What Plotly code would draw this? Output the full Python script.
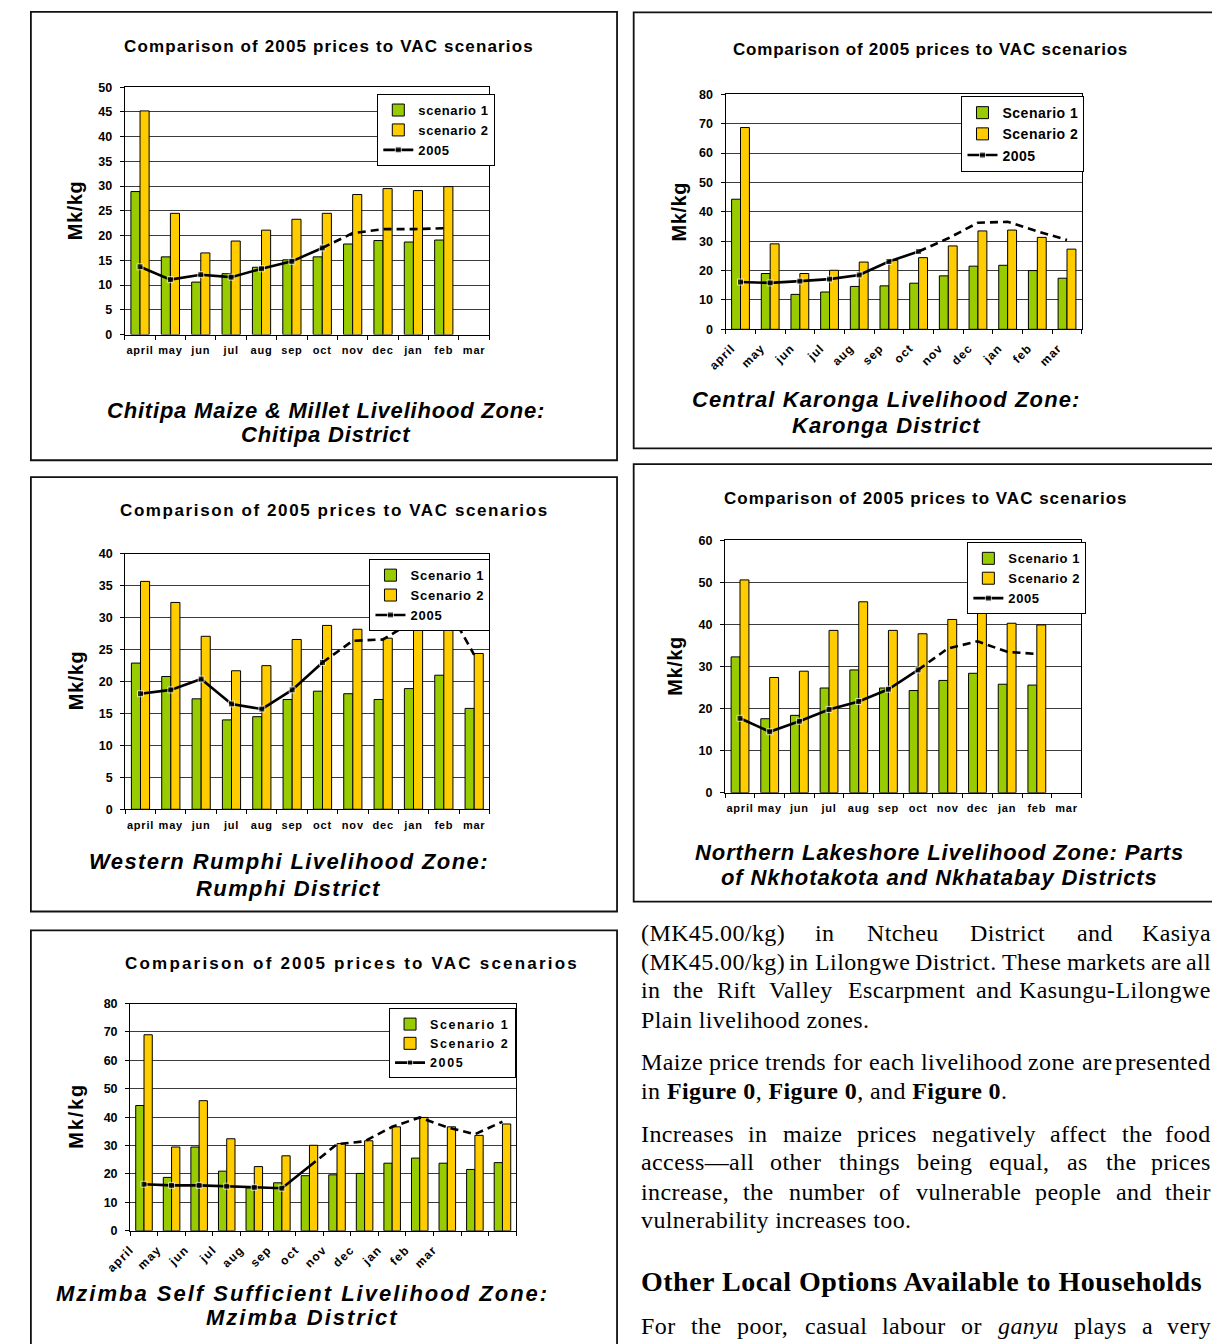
import plotly.graph_objects as go

W, H = 1212, 1344
SANS = "Liberation Sans, Arial, sans-serif"
SERIF = "Liberation Serif, Times New Roman, serif"
GREEN = "#99CC00"
YELLOW = "#FFCC00"

# ---------------- data ----------------
months = ["april", "may", "jun", "jul", "aug", "sep", "oct", "nov", "dec", "jan", "feb", "mar"]

chitipa_s1 = [28.9, 15.7, 10.6, 12.3, 13.6, 15.1, 15.7, 18.3, 19.0, 18.7, 19.1, None]
chitipa_s2 = [45.2, 24.5, 16.5, 18.9, 21.1, 23.3, 24.5, 28.3, 29.5, 29.1, 29.9, None]
chitipa_2005 = [13.7, 11.1, 12.1, 11.6, 13.3, 14.8, 17.5, 20.5, 21.3, 21.3, 21.5, None]

karonga_s1 = [44.3, 19.0, 11.9, 12.7, 14.6, 14.8, 15.7, 18.2, 21.5, 21.8, 20.0, 17.4]
karonga_s2 = [68.7, 29.1, 19.0, 20.1, 22.9, 23.5, 24.4, 28.4, 33.5, 33.8, 31.3, 27.3]
karonga_2005 = [16.1, 15.8, 16.4, 17.1, 18.5, 23.1, 26.5, 31.0, 36.3, 36.6, 33.4, 30.4]

rumphi_s1 = [22.9, 20.8, 17.3, 14.0, 14.5, 17.2, 18.5, 18.1, 17.2, 18.9, 21.0, 15.8]
rumphi_s2 = [35.7, 32.4, 27.1, 21.7, 22.5, 26.6, 28.8, 28.2, 26.8, 29.3, 32.8, 24.4]
rumphi_2005 = [18.1, 18.7, 20.4, 16.5, 15.7, 18.7, 23.0, 26.4, 26.6, 29.5, 32.7, 24.2]

lakeshore_s1 = [32.3, 17.6, 18.4, 24.9, 29.2, 24.9, 24.3, 26.7, 28.4, 25.8, 25.6, None]
lakeshore_s2 = [50.6, 27.4, 28.9, 38.6, 45.4, 38.6, 37.8, 41.2, 44.1, 40.3, 39.9, None]
lakeshore_2005 = [17.7, 14.5, 17.0, 19.8, 21.7, 24.6, 29.2, 34.3, 36.0, 33.5, 33.0, None]

mzimba_s1 = [44.1, 18.8, 29.5, 21.0, 15.1, 16.9, 19.4, 19.7, 20.2, 23.8, 25.6, 23.8, 21.6, 24.0]
mzimba_s2 = [69.0, 29.5, 45.8, 32.4, 22.6, 26.4, 30.1, 30.7, 31.7, 36.6, 39.9, 36.6, 33.6, 37.6]
mzimba_2005 = [16.4, 16.0, 16.0, 15.7, 15.3, 15.0, 22.7, 30.5, 31.5, 36.6, 39.9, 36.4, 34.0, 38.4]

chart_title = "Comparison of 2005 prices to VAC scenarios"
OBSERVED_LAST = 6  # index of the last observed (solid) 2005 price: oct


def px(x):
    return x / W


def py(y):
    return 1 - y / H


def sp(text, spacing):
    return f'<span style="letter-spacing:{spacing}px">{text}</span>'


fig = go.Figure()

panels = [
    dict(s1=chitipa_s1, s2=chitipa_s2, p=chitipa_2005, names=("scenario 1", "scenario 2"),
         box=(5, 5, 604, 458), plot=(101, 81, 473.5, 331), ymax=50, dtick=5,
         title_xy=(310, 39.5), title_ls=1.15,
         caption=[(307, 407.3, "Chitipa Maize &amp; Millet Livelihood Zone:"), (307, 432.3, "Chitipa District")],
         cap_ls=0.8, ytitle_xy=(49.5, 205), ytitle_ls=0.6, leg_xy=(359, 88), leg_size=13, leg_ls=0.6,
         rotated=False, last_marker=True),
    dict(s1=karonga_s1, s2=karonga_s2, p=karonga_2005, names=("Scenario 1", "Scenario 2"),
         box=(621, 5.5, 1230, 446), plot=(715, 88.3, 1079, 325.7), ymax=80, dtick=10,
         title_xy=(924.5, 43.3), title_ls=0.8,
         caption=[(879, 396.7, "Central Karonga Livelihood Zone:"), (879, 423.3, "Karonga District")],
         cap_ls=1.1, ytitle_xy=(667, 207), ytitle_ls=0.6, leg_xy=(956, 90), leg_size=14, leg_ls=0.5,
         rotated=True, last_marker=True),
    dict(s1=rumphi_s1, s2=rumphi_s2, p=rumphi_2005, names=("Scenario 1", "Scenario 2"),
         box=(5, 475, 604, 914), plot=(101.5, 552.7, 473.5, 810.7), ymax=40, dtick=5,
         title_xy=(315.5, 509.3), title_ls=1.6,
         caption=[(268.5, 863.3, "Western Rumphi Livelihood Zone:"), (268.5, 890.7, "Rumphi District")],
         cap_ls=1.4, ytitle_xy=(51.5, 680), ytitle_ls=0.6, leg_xy=(351, 558), leg_size=13, leg_ls=0.8,
         rotated=False, last_marker=True),
    dict(s1=lakeshore_s1, s2=lakeshore_s2, p=lakeshore_2005, names=("Scenario 1", "Scenario 2"),
         box=(621, 462, 1230, 904), plot=(714.5, 539, 1078.5, 794), ymax=60, dtick=10,
         title_xy=(919.5, 496.7), title_ls=1.0,
         caption=[(933.5, 854.3, "Northern Lakeshore Livelihood Zone: Parts"),
                  (933.5, 880, "of Nkhotakota and Nkhatabay Districts")],
         cap_ls=0.9, ytitle_xy=(663, 666), ytitle_ls=0.6, leg_xy=(962, 541), leg_size=13, leg_ls=0.6,
         rotated=False, last_marker=True),
    dict(s1=mzimba_s1, s2=mzimba_s2, p=mzimba_2005, names=("Scenario 1", "Scenario 2"),
         box=(5, 933, 604, 1360), plot=(106.5, 1007, 501, 1236.7), ymax=80, dtick=10,
         title_xy=(333, 966.7), title_ls=2.2,
         caption=[(282.5, 1300, "Mzimba Self Sufficient Livelihood Zone:"), (282.5, 1324.3, "Mzimba District")],
         cap_ls=2.0, ytitle_xy=(51.5, 1120), ytitle_ls=1.8, leg_xy=(371, 1012), leg_size=12.5, leg_ls=1.6,
         rotated=True, last_marker=False, boundary_labels=True),
]

shapes = []
annotations = []

for k, cfg in enumerate(panels, start=1):
    sfx = "" if k == 1 else str(k)
    xref, yref = "x" + sfx, "y" + sfx
    legend_id = "legend" + sfx
    n = len(cfg["s1"])
    xs = list(range(n))
    s1_name, s2_name = cfg["names"]

    fig.add_trace(go.Bar(x=xs, y=cfg["s1"], name=sp(s1_name, cfg["leg_ls"]),
                         marker=dict(color=GREEN, line=dict(color="black", width=1)),
                         xaxis=xref, yaxis=yref, legend=legend_id, legendgroup=f"a{k}"))
    fig.add_trace(go.Bar(x=xs, y=cfg["s2"], name=sp(s2_name, cfg["leg_ls"]),
                         marker=dict(color=YELLOW, line=dict(color="black", width=1)),
                         xaxis=xref, yaxis=yref, legend=legend_id, legendgroup=f"b{k}"))

    # observed 2005 prices (solid) and projected continuation (dashed)
    solid_x = xs[:OBSERVED_LAST + 1]
    solid_y = cfg["p"][:OBSERVED_LAST + 1]
    msize = [6] * len(solid_x)
    if not cfg["last_marker"]:
        msize[-1] = 0
    fig.add_trace(go.Scatter(x=solid_x, y=solid_y, mode="lines+markers", name=sp("2005", cfg["leg_ls"]),
                             line=dict(color="black", width=2.6),
                             marker=dict(symbol="square", size=msize, color="black"),
                             xaxis=xref, yaxis=yref, legend=legend_id, legendgroup=f"c{k}"))
    dash_pts = [(x, y) for x, y in zip(xs[OBSERVED_LAST:], cfg["p"][OBSERVED_LAST:]) if y is not None]
    fig.add_trace(go.Scatter(x=[d[0] for d in dash_pts], y=[d[1] for d in dash_pts], mode="lines",
                             line=dict(color="black", width=2.6, dash="8px,5px"),
                             showlegend=False, xaxis=xref, yaxis=yref))

    x0, y0, x1, y1 = cfg["plot"]
    xaxis = dict(domain=[px(x0), px(x1)], anchor=yref, range=[-0.5, n - 0.5],
                 showline=True, linecolor="black", linewidth=1.3, mirror=True,
                 showgrid=False, zeroline=False, fixedrange=True,
                 tickfont=dict(family=SANS, size=12 if cfg["rotated"] else 11, color="black", weight="bold"))
    boundaries = [i - 0.5 for i in range(n + 1)]
    if cfg.get("boundary_labels"):
        xaxis.update(tickmode="array", tickvals=boundaries,
                     ticktext=[sp(m, 1.2) for m in months] + [""] * (len(boundaries) - len(months)),
                     ticks="outside", ticklen=4, tickcolor="black", tickangle=-45,
                     ticklabelstandoff=2)
    else:
        offset = -0.3 if cfg["rotated"] else 0.0
        xaxis.update(tickmode="array", tickvals=[i + offset for i in range(len(months))],
                     ticktext=[sp(m, 1.0 if cfg["rotated"] else 0.8) for m in months],
                     ticks="", ticklen=0,
                     tickangle=-45 if cfg["rotated"] else 0,
                     ticklabelstandoff=6 if cfg["rotated"] else 5,
                     minor=dict(tickmode="array", tickvals=boundaries, ticks="outside",
                                ticklen=4, tickcolor="black", showgrid=False))
    yaxis = dict(domain=[py(y1), py(y0)], anchor=xref, range=[0, cfg["ymax"]],
                 tick0=0, dtick=cfg["dtick"], showgrid=True, gridcolor="#3c3c3c", gridwidth=1,
                 showline=True, linecolor="black", linewidth=1.3, mirror=True,
                 ticks="outside", ticklen=4, tickcolor="black", zeroline=False,
                 ticklabelstandoff=5, fixedrange=True,
                 tickfont=dict(family=SANS, size=12.5, color="black", weight="bold"))
    fig.update_layout({"xaxis" + sfx: xaxis, "yaxis" + sfx: yaxis})

    fig.update_layout({legend_id: dict(
        x=px(cfg["leg_xy"][0]), y=py(cfg["leg_xy"][1]), xanchor="left", yanchor="top",
        bgcolor="white", bordercolor="black", borderwidth=1, tracegroupgap=2,
        itemwidth=30, traceorder="normal",
        font=dict(family=SANS, size=cfg["leg_size"], color="black", weight="bold"))})

    bx0, by0, bx1, by1 = cfg["box"]
    shapes.append(dict(type="rect", xref="paper", yref="paper",
                       x0=px(bx0), x1=px(bx1), y0=py(by1), y1=py(by0),
                       line=dict(color="#111111", width=1.8), layer="below"))

    annotations.append(dict(x=px(cfg["title_xy"][0]), y=py(cfg["title_xy"][1]), xref="paper", yref="paper",
                            text=sp(chart_title, cfg["title_ls"]), showarrow=False,
                            xanchor="center", yanchor="middle",
                            font=dict(family=SANS, size=17, color="black", weight="bold")))
    for cx, cy, line in cfg["caption"]:
        annotations.append(dict(x=px(cx), y=py(cy), xref="paper", yref="paper",
                                text=sp(line, cfg["cap_ls"]), showarrow=False,
                                xanchor="center", yanchor="middle",
                                font=dict(family=SANS, size=22, color="black", weight="bold", style="italic")))
    annotations.append(dict(x=px(cfg["ytitle_xy"][0]), y=py(cfg["ytitle_xy"][1]), xref="paper", yref="paper",
                            text=sp("Mk/kg", cfg["ytitle_ls"]), textangle=-90, showarrow=False,
                            xanchor="center", yanchor="middle",
                            font=dict(family=SANS, size=20, color="black", weight="bold")))

# ---------------- body text beside the charts ----------------
BODY_SIZE = 24
BODY_LS = 0.4
BODY = dict(family=SERIF, size=BODY_SIZE, color="black")
LEFT_EDGE, RIGHT_EDGE = 627, 1211.5

# Times-compatible advance widths (1/1000 em) used to justify the lines
_times = {" ": 250, "(": 333, ")": 333, ".": 250, ",": 250, "/": 278, "-": 333, "—": 1000, ":": 278}
_times.update({d: 500 for d in "0123456789"})
_times.update(dict(zip("ABCDEFGHIJKLMNOPQRSTUVWXYZ",
                       [722, 667, 667, 722, 611, 556, 722, 722, 333, 389, 722, 611, 889,
                        722, 722, 556, 722, 667, 556, 611, 722, 722, 944, 722, 722, 611])))
_times.update(dict(zip("abcdefghijklmnopqrstuvwxyz",
                       [444, 500, 444, 500, 444, 333, 500, 500, 278, 278, 500, 278, 778,
                        500, 500, 500, 500, 333, 389, 278, 500, 500, 722, 500, 500, 444])))
_times_italic = dict(_times)
_times_italic.update({"a": 500, "y": 444, "g": 500, "n": 500, "u": 500})


def word_width(word, italic=False):
    table = _times_italic if italic else _times
    return sum(table.get(ch, 500) for ch in word) * BODY_SIZE / 1000 + BODY_LS * len(word)


justified_lines = [
    (935.7, "(MK45.00/kg) in Ntcheu District and Kasiya"),
    (965.0, "(MK45.00/kg) in Lilongwe District. These markets are all"),
    (993.3, "in the Rift Valley Escarpment and Kasungu-Lilongwe"),
    (1065.7, "Maize price trends for each livelihood zone are presented"),
    (1139.0, "Increases in maize prices negatively affect the food"),
    (1167.3, "access—all other things being equal, as the prices"),
    (1197.3, "increase, the number of vulnerable people and their"),
    (1333.3, "For the poor, casual labour or ganyu plays a very"),
]
ITALIC_WORDS = {"ganyu"}

for y, line in justified_lines:
    words = line.split(" ")
    widths = [word_width(w, w in ITALIC_WORDS) for w in words]
    gap = (RIGHT_EDGE - LEFT_EDGE - sum(widths)) / (len(words) - 1)
    x = LEFT_EDGE
    for i, (w, wd) in enumerate(zip(words, widths)):
        last = i == len(words) - 1
        label = f"<i>{w}</i>" if w in ITALIC_WORDS else w
        annotations.append(dict(
            x=px(RIGHT_EDGE if last else x), y=py(y), xref="paper", yref="paper",
            text=sp(label, BODY_LS), showarrow=False,
            xanchor="right" if last else "left", yanchor="middle",
            borderpad=0, font=BODY))
        x += wd + gap

ragged_lines = [
    (1023.3, "Plain livelihood zones."),
    (1095.7, "in <b>Figure 0</b>, <b>Figure 0</b>, and <b>Figure 0</b>."),
    (1225.7, "vulnerability increases too."),
]
for y, line in ragged_lines:
    annotations.append(dict(x=px(LEFT_EDGE), y=py(y), xref="paper", yref="paper", text=sp(line, BODY_LS),
                            showarrow=False, xanchor="left", yanchor="middle", borderpad=0, font=BODY))

annotations.append(dict(x=px(LEFT_EDGE), y=py(1288.3), xref="paper", yref="paper",
                        text=sp("Other Local Options Available to Households", 0.5),
                        showarrow=False, xanchor="left", yanchor="middle", borderpad=0,
                        font=dict(family=SERIF, size=28, color="black", weight="bold")))

fig.update_layout(
    width=W, height=H, margin=dict(l=0, r=0, t=0, b=0),
    paper_bgcolor="white", plot_bgcolor="white",
    barmode="group", bargap=0.4, bargroupgap=0,
    shapes=shapes, annotations=annotations,
)

fig.write_html("out.html")
